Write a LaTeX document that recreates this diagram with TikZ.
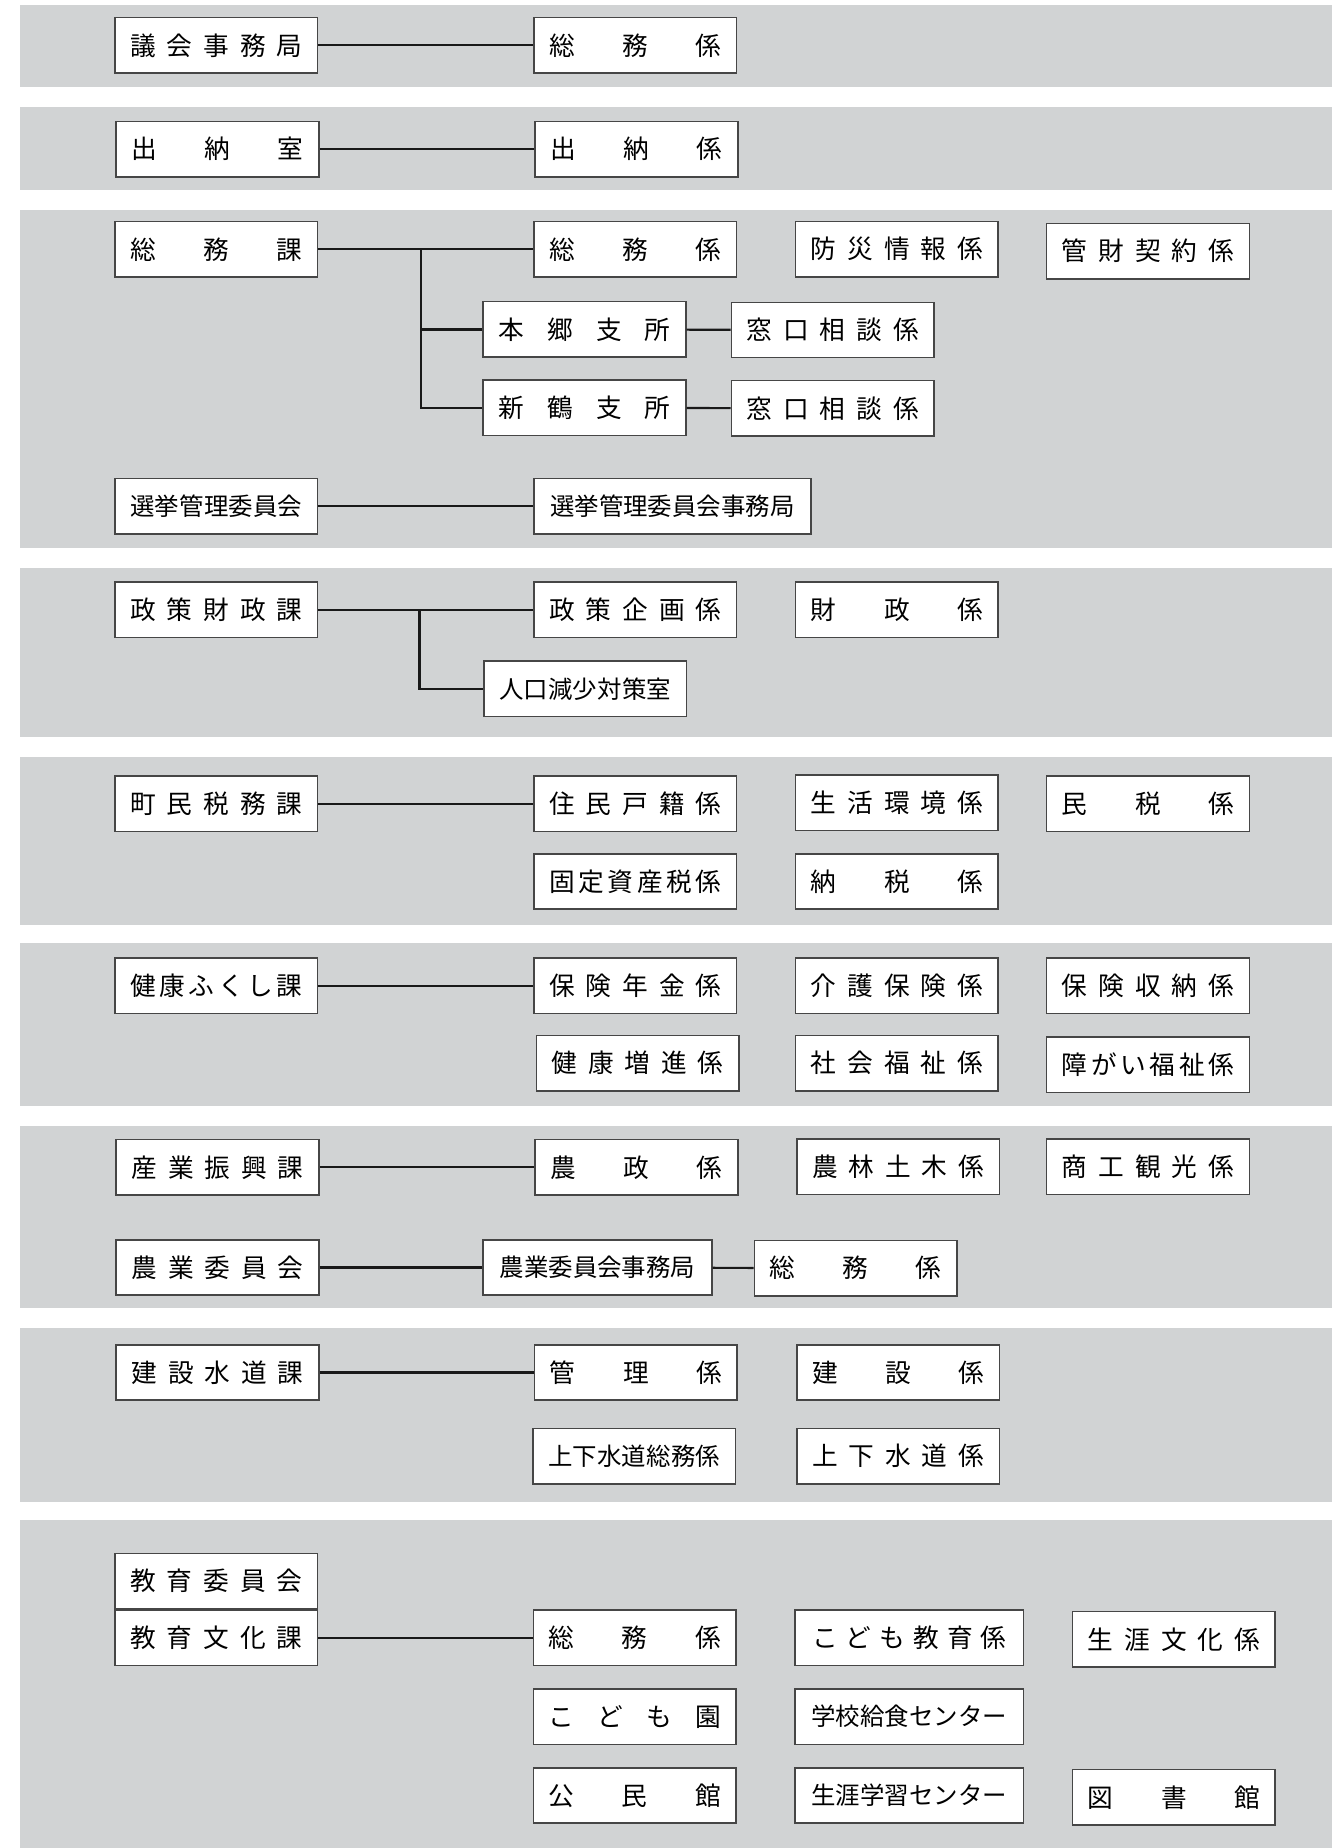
\documentclass[tikz,border=0pt]{standalone}
\usepackage{fontspec}
\usepackage{tikz}
\usetikzlibrary{positioning}
\newfontfamily\jp{Noto Sans CJK JP}
\definecolor{panelgray}{RGB}{209,211,212}
\definecolor{boxline}{RGB}{70,70,70}
\definecolor{linecol}{RGB}{25,25,25}

% spread the characters of a label evenly over a given width
\def\spreadloop#1{\ifx\relax#1\else#1\hfil\expandafter\spreadloop\fi}
\newcommand\spreadtext[2][2.92cm]{\makebox[#1][s]{\spreadloop#2\relax\unskip}}

\begin{document}
\begin{tikzpicture}[
    x=0.02cm, y=-0.02cm,
    unit/.style={draw=boxline, fill=white, line width=0.75pt,
                 minimum width=3.44cm, minimum height=0.94cm,
                 inner sep=0pt, text=black,
                 font=\jp\fontsize{12.4pt}{14pt}\selectfont},
    wideunit/.style={unit, minimum width=3.88cm},
    widestunit/.style={unit, minimum width=4.7cm},
    packed/.style={font=\jp\fontsize{11.8pt}{14pt}\selectfont},
    conn/.style={draw=linecol, line width=1.05pt},
]

\path[use as bounding box] (0,0) rectangle (1130,1568);

% ════════════════════════════════════════════════════════
% 0. GRAY PANELS
% ════════════════════════════════════════════════════════
\foreach \ya/\yb in {4/74, 91/161, 178/465, 482/625, 642/785,
                     800/938, 955/1110, 1127/1274, 1290/1568}{
    \fill[panelgray] (17,\ya) rectangle (1130,\yb);
}

% ════════════════════════════════════════════════════════
% 1. 議会事務局 / 出納室
% ════════════════════════════════════════════════════════
\node[unit] (gikai) at (183.5,38.5) {\spreadtext{議会事務局}};
\node[unit] (gikaiSoumu) at (539,38.5) {\spreadtext{総務係}};
\draw[conn] (gikai) -- (gikaiSoumu);

\node[unit] (suitou) at (184.5,126.5) {\spreadtext{出納室}};
\node[unit] (suitouKakari) at (540,126.5) {\spreadtext{出納係}};
\draw[conn] (suitou) -- (suitouKakari);

% ════════════════════════════════════════════════════════
% 2. 総務課 / 選挙管理委員会
% ════════════════════════════════════════════════════════
\node[unit] (soumuka) at (183.5,211.5) {\spreadtext{総務課}};
\node[unit] (soumuKakari) at (539,211.5) {\spreadtext{総務係}};
\node[unit] (bousai) at (761,211.5) {\spreadtext{防災情報係}};
\node[unit] (kanzai) at (974,213) {\spreadtext{管財契約係}};
\node[unit] (hongou) at (496,279.5) {\spreadtext{本郷支所}};
\node[unit] (madoguchiA) at (706.5,280) {\spreadtext{窓口相談係}};
\node[unit] (shintsuru) at (496,346) {\spreadtext{新鶴支所}};
\node[unit] (madoguchiB) at (706.5,346.5) {\spreadtext{窓口相談係}};

\coordinate (soumuBr) at (357,211.5);
\draw[conn] (soumuka) -- (soumuKakari);
\draw[conn] (soumuBr) |- (shintsuru.west);
\draw[conn] (soumuBr |- hongou.west) -- (hongou.west);
\draw[conn] (hongou) -- (madoguchiA);
\draw[conn] (shintsuru) -- (madoguchiB);

\node[unit, packed] (senkyo) at (183.5,429.5) {\spreadtext{選挙管理委員会}};
\node[widestunit, packed] (senkyoJim) at (570.5,429.5) {選挙管理委員会事務局};
\draw[conn] (senkyo) -- (senkyoJim);

% ════════════════════════════════════════════════════════
% 3. 政策財政課
% ════════════════════════════════════════════════════════
\node[unit] (seisaku) at (183.5,517.5) {\spreadtext{政策財政課}};
\node[unit] (kikaku) at (539,517.5) {\spreadtext{政策企画係}};
\node[unit] (zaisei) at (761,517.5) {\spreadtext{財政係}};
\node[unit, packed] (jinkou) at (496.5,584.5) {\spreadtext{人口減少対策室}};

\coordinate (seisakuBr) at (356,517.5);
\draw[conn] (seisaku) -- (kikaku);
\draw[conn] (seisakuBr) |- (jinkou.west);

% ════════════════════════════════════════════════════════
% 4. 町民税務課
% ════════════════════════════════════════════════════════
\node[unit] (zeimu) at (183.5,682) {\spreadtext{町民税務課}};
\node[unit] (juumin) at (539,682) {\spreadtext{住民戸籍係}};
\node[unit] (seikatsu) at (761,681) {\spreadtext{生活環境係}};
\node[unit] (minzei) at (974,682) {\spreadtext{民税係}};
\node[unit] (kotei) at (539,748) {\spreadtext{固定資産税係}};
\node[unit] (nouzei) at (761,748) {\spreadtext{納税係}};
\draw[conn] (zeimu) -- (juumin);

% ════════════════════════════════════════════════════════
% 5. 健康ふくし課
% ════════════════════════════════════════════════════════
\node[unit] (kenkou) at (183.5,836.5) {\spreadtext{健康ふくし課}};
\node[unit] (nenkin) at (539,836.5) {\spreadtext{保険年金係}};
\node[unit] (kaigo) at (761,836.5) {\spreadtext{介護保険係}};
\node[unit] (shuunou) at (974,836.5) {\spreadtext{保険収納係}};
\node[unit] (zoushin) at (541,902) {\spreadtext{健康増進係}};
\node[unit] (shakai) at (761,902) {\spreadtext{社会福祉係}};
\node[unit] (shougai) at (974,903.5) {\spreadtext{障がい福祉係}};
\draw[conn] (kenkou) -- (nenkin);

% ════════════════════════════════════════════════════════
% 6. 産業振興課 / 農業委員会
% ════════════════════════════════════════════════════════
\node[unit] (sangyou) at (184.5,990.5) {\spreadtext{産業振興課}};
\node[unit] (nousei) at (540,990.5) {\spreadtext{農政係}};
\node[unit] (nourin) at (762,990) {\spreadtext{農林土木係}};
\node[unit] (shoukou) at (974,990) {\spreadtext{商工観光係}};
\draw[conn] (sangyou) -- (nousei);

\node[unit] (nougyou) at (184.5,1075.5) {\spreadtext{農業委員会}};
\node[wideunit, packed] (nougyouJim) at (507,1075.5) {農業委員会事務局};
\node[unit] (nougyouSoumu) at (726,1076) {\spreadtext{総務係}};
\draw[conn] (nougyou) -- (nougyouJim);
\draw[conn] (nougyouJim) -- (nougyouSoumu);

% ════════════════════════════════════════════════════════
% 7. 建設水道課
% ════════════════════════════════════════════════════════
\node[unit] (kensetsu) at (184.5,1164.5) {\spreadtext{建設水道課}};
\node[unit] (kanri) at (539.5,1164.5) {\spreadtext{管理係}};
\node[unit] (kensetsuKakari) at (762,1164.5) {\spreadtext{建設係}};
\node[unit, packed] (gesuiSoumu) at (538,1235.5) {\spreadtext{上下水道総務係}};
\node[unit] (gesui) at (762,1235.5) {\spreadtext{上下水道係}};
\draw[conn] (kensetsu) -- (kanri);

% ════════════════════════════════════════════════════════
% 8. 教育委員会 / 教育文化課
% ════════════════════════════════════════════════════════
\node[unit] (kyouiku) at (183.5,1341.5) {\spreadtext{教育委員会}};
\node[unit] (bunka) at (183.5,1389.5) {\spreadtext{教育文化課}};
\node[unit] (bunkaSoumu) at (538.5,1389.5) {\spreadtext{総務係}};
\node[wideunit] (kodomoKyouiku) at (771.5,1389.5) {\spreadtext[3.3cm]{こども教育係}};
\node[unit] (shougaiBunka) at (996,1391) {\spreadtext{生涯文化係}};
\node[unit] (kodomoen) at (538.5,1456.5) {\spreadtext{こども園}};
\node[wideunit, packed] (kyuushoku) at (771.5,1456.5) {学校給食センター};
\node[unit] (kouminkan) at (538.5,1523.5) {\spreadtext{公民館}};
\node[wideunit, packed] (gakushuu) at (771.5,1523.5) {生涯学習センター};
\node[unit] (toshokan) at (996,1525) {\spreadtext{図書館}};
\draw[conn] (bunka) -- (bunkaSoumu);

\end{tikzpicture}
\end{document}
